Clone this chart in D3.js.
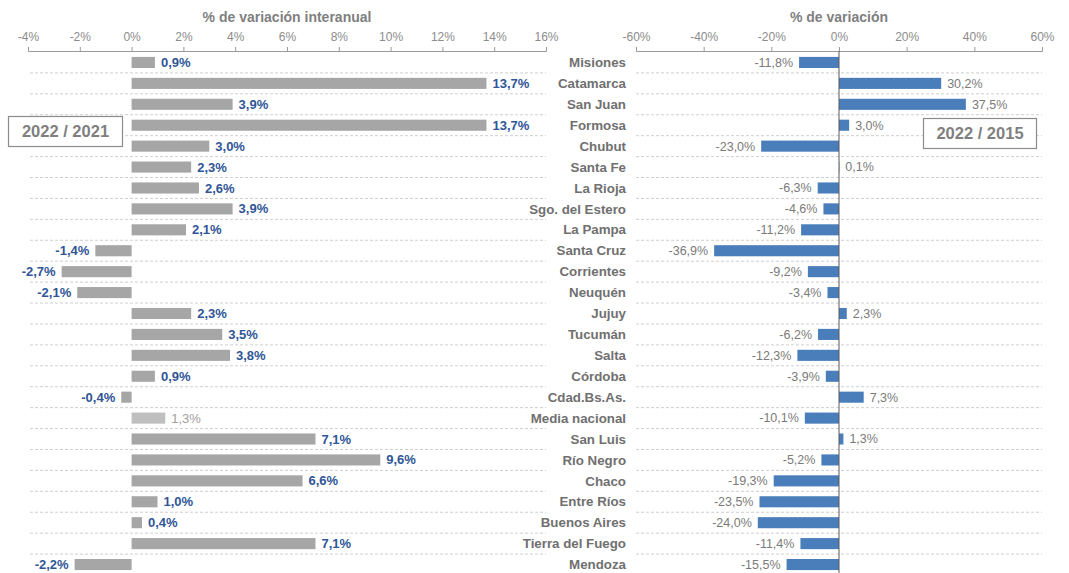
<!DOCTYPE html>
<html>
<head>
<meta charset="utf-8">
<script src="https://cdn.jsdelivr.net/npm/d3@7"></script>
<style>
	body { margin: 0; background: #fff; }
	text { font-family: "Liberation Sans", Arial, sans-serif; }
</style>
</head>
<body>
<script>
// provinces, top to bottom
var provincias = ['Misiones', 'Catamarca', 'San Juan', 'Formosa', 'Chubut', 'Santa Fe', 'La Rioja',
	'Sgo. del Estero', 'La Pampa', 'Santa Cruz', 'Corrientes', 'Neuquén', 'Jujuy', 'Tucumán', 'Salta',
	'Córdoba', 'Cdad.Bs.As.', 'Media nacional', 'San Luis', 'Río Negro', 'Chaco', 'Entre Ríos',
	'Buenos Aires', 'Tierra del Fuego', 'Mendoza'];

// 2022 / 2021, % de variación interanual
var varInteranual = [0.9, 13.7, 3.9, 13.7, 3.0, 2.3, 2.6, 3.9, 2.1, -1.4, -2.7, -2.1, 2.3, 3.5, 3.8,
	0.9, -0.4, 1.3, 7.1, 9.6, 6.6, 1.0, 0.4, 7.1, -2.2];

// 2022 / 2015, % de variación
var var2015 = [-11.8, 30.2, 37.5, 3.0, -23.0, 0.1, -6.3, -4.6, -11.2, -36.9, -9.2, -3.4, 2.3, -6.2,
	-12.3, -3.9, 7.3, -10.1, 1.3, -5.2, -19.3, -23.5, -24.0, -11.4, -15.5];

var ticksLeft = [-4, -2, 0, 2, 4, 6, 8, 10, 12, 14, 16];
var ticksRight = [-60, -40, -20, 0, 20, 40, 60];

var width = 1069, height = 573;
var axisY = 51;

var svg = d3.select('body').append('svg')
	.attr('width', width)
	.attr('height', height);

// spanish style: comma decimal, plain hyphen for minus
var fmt = function(v) { return v.toFixed(1).replace('.', ',') + '%'; };

// scales
var xL = d3.scaleLinear().domain([-4, 16]).range([28, 546]);
var xR = d3.scaleLinear().domain([-60, 60]).range([636, 1042]);
var y = d3.scaleBand().domain(provincias).range([52, 575]).paddingInner(0.47).paddingOuter(0.235);

var rowStep = y.step();

// dashed separators
provincias.slice(0, -1).forEach(function(p) {
	var yy = y(p) + y.bandwidth() / 2 + rowStep / 2;
	svg.append('line').attr('x1', 30).attr('x2', xL.range()[1])
		.attr('y1', yy).attr('y2', yy)
		.attr('stroke', '#cfcfcf').attr('stroke-dasharray', '3,2');
	svg.append('line').attr('x1', xR.range()[0]).attr('x2', xR.range()[1])
		.attr('y1', yy).attr('y2', yy)
		.attr('stroke', '#cfcfcf').attr('stroke-dasharray', '3,2');
});

// axes on top
function drawAxis(scale, ticks, title) {
	var g = svg.append('g').attr('transform', `translate(0, ${axisY})`);
	g.call(d3.axisTop(scale).tickValues(ticks).tickSize(4).tickSizeOuter(4).tickPadding(6)
		.tickFormat(function(d) { return d + '%'; }));
	g.select('.domain').attr('stroke', '#9a9a9a');
	g.selectAll('.tick line').attr('stroke', '#9a9a9a');
	g.selectAll('.tick text').attr('fill', '#8c8c8c').style('font-size', '12px')
		.style('font-family', '"Liberation Sans", Arial, sans-serif');
	svg.append('text')
		.attr('x', d3.mean(scale.range()))
		.attr('y', 22)
		.attr('text-anchor', 'middle')
		.attr('fill', '#7f7f7f')
		.style('font-size', '14px')
		.style('font-weight', 'bold')
		.text(title);
}
drawAxis(xL, ticksLeft, '% de variación interanual');
drawAxis(xR, ticksRight, '% de variación');

// left bars
var data = provincias.map(function(p, i) {
	return { name: p, a: varInteranual[i], b: var2015[i], media: p === 'Media nacional' };
});

svg.append('g').selectAll('rect').data(data).join('rect')
	.attr('x', function(d) { return xL(Math.min(0, d.a)); })
	.attr('y', function(d) { return y(d.name); })
	.attr('width', function(d) { return Math.abs(xL(d.a) - xL(0)); })
	.attr('height', y.bandwidth())
	.attr('fill', function(d) { return d.media ? '#bfbfbf' : '#a6a6a6'; });

svg.append('g').selectAll('text').data(data).join('text')
	.attr('x', function(d) { return d.a >= 0 ? xL(d.a) + 6 : xL(d.a) - 6; })
	.attr('y', function(d) { return y(d.name) + y.bandwidth() / 2; })
	.attr('dy', '0.35em')
	.attr('text-anchor', function(d) { return d.a >= 0 ? 'start' : 'end'; })
	.attr('fill', function(d) { return d.media ? '#a0a0a0' : '#2f5597'; })
	.style('font-size', '13px')
	.style('font-weight', function(d) { return d.media ? 'normal' : 'bold'; })
	.text(function(d) { return fmt(d.a); });

// category labels
svg.append('g').selectAll('text').data(data).join('text')
	.attr('x', 626)
	.attr('y', function(d) { return y(d.name) + y.bandwidth() / 2; })
	.attr('dy', '0.35em')
	.attr('text-anchor', 'end')
	.attr('fill', '#707070')
	.style('font-size', '13.3px')
	.style('font-weight', 'bold')
	.text(function(d) { return d.name; });

// right bars
svg.append('g').selectAll('rect').data(data).join('rect')
	.attr('x', function(d) { return xR(Math.min(0, d.b)); })
	.attr('y', function(d) { return y(d.name); })
	.attr('width', function(d) { return Math.abs(xR(d.b) - xR(0)); })
	.attr('height', y.bandwidth())
	.attr('fill', '#4a7ebb');

svg.append('g').selectAll('text').data(data).join('text')
	.attr('x', function(d) { return d.b >= 0 ? xR(d.b) + 6 : xR(d.b) - 6; })
	.attr('y', function(d) { return y(d.name) + y.bandwidth() / 2; })
	.attr('dy', '0.35em')
	.attr('text-anchor', function(d) { return d.b >= 0 ? 'start' : 'end'; })
	.attr('fill', '#7a7a7a')
	.style('font-size', '12.5px')
	.text(function(d) { return fmt(d.b); });

// zero line on the right panel
svg.append('line')
	.attr('x1', xR(0)).attr('x2', xR(0))
	.attr('y1', axisY).attr('y2', height)
	.attr('stroke', '#595959');

// period boxes
function box(x, yy, w, h, label) {
	svg.append('rect').attr('x', x).attr('y', yy).attr('width', w).attr('height', h)
		.attr('fill', '#fff').attr('stroke', '#8c8c8c').attr('stroke-width', 1.2);
	svg.append('text').attr('x', x + w / 2).attr('y', yy + h / 2).attr('dy', '0.35em')
		.attr('text-anchor', 'middle').attr('fill', '#7f7f7f')
		.style('font-size', '16.5px').style('font-weight', 'bold')
		.text(label);
}
box(8.5, 116.5, 114, 30, '2022 / 2021');
box(923.5, 118.5, 113, 30, '2022 / 2015');
</script>
</body>
</html>
